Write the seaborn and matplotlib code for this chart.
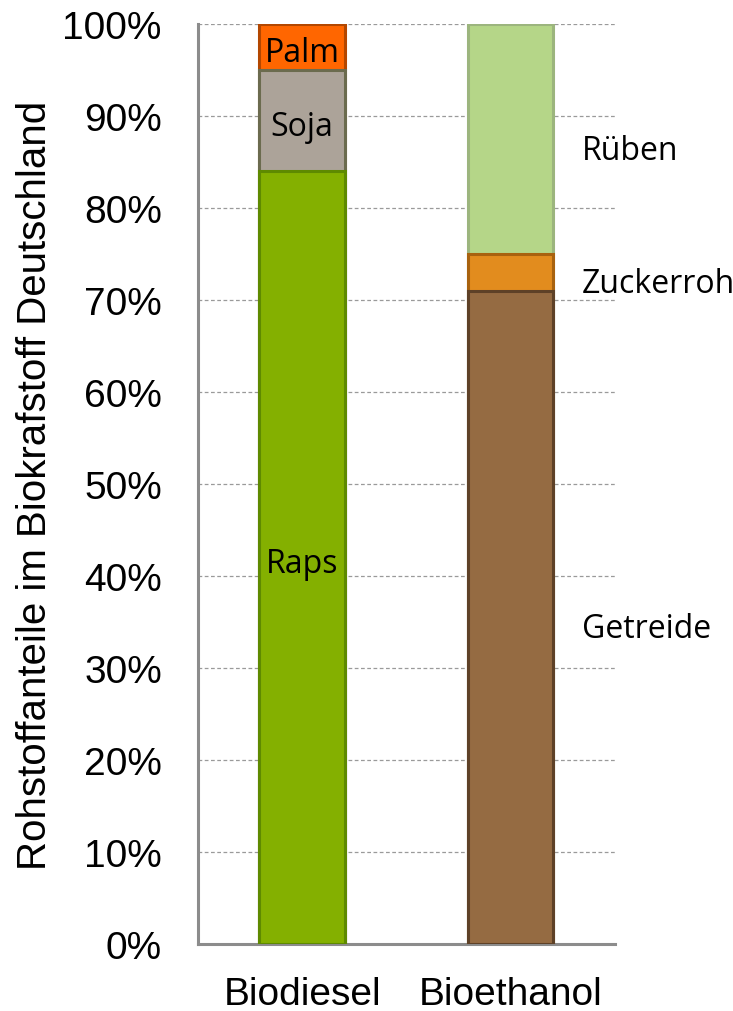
import pandas as pd
import matplotlib.pyplot as plt
import seaborn as sns

# Rohstoffanteile (%) je Kraftstoff
products = ['Biodiesel', 'Bioethanol']
biodiesel_parts = ['Raps', 'Soja', 'Palm']
biodiesel_vals = [84, 11, 5]
bioethanol_parts = ['Getreide', 'Zuckerrohr', 'Rüben']
bioethanol_vals = [71, 4, 25]
y_ticks = list(range(0, 101, 10))

fill = {'Raps': '#84B000', 'Soja': '#ACA399', 'Palm': '#FF6600',
        'Getreide': '#956B42', 'Zuckerrohr': '#E28C1E', 'Rüben': '#B5D688'}
edge = {'Raps': '#5E8A00', 'Soja': '#6B6B4E', 'Palm': '#B34700',
        'Getreide': '#5E4127', 'Zuckerrohr': '#A8620F', 'Rüben': '#9CB57E'}

rows = []
for prod, parts, vals in [(products[0], biodiesel_parts, biodiesel_vals),
                          (products[1], bioethanol_parts, bioethanol_vals)]:
    bottom = 0
    for level, (p, v) in enumerate(zip(parts, vals)):
        rows.append(dict(product=prod, part=p, level=level, value=v,
                         bottom=bottom, top=bottom + v))
        bottom += v
df = pd.DataFrame(rows)

sns.set_style('white')
plt.rcParams['font.family'] = ['Liberation Sans', 'DejaVu Sans']
plt.rcParams['text.color'] = 'black'
plt.rcParams['axes.labelcolor'] = 'black'
plt.rcParams['xtick.labelcolor'] = 'black'
plt.rcParams['ytick.labelcolor'] = 'black'

fig = plt.figure(figsize=(7.33, 10.12), dpi=100)
ax = fig.add_axes([0.270, 0.0662, 0.569, 0.9091])

# grid first, behind bars
for t in y_ticks[1:]:
    ax.axhline(t, color='#9A9A9A', lw=0.9, ls=(0, (3, 2)), zorder=0)

# stacked bars: draw cumulative tops from highest level down
for level in sorted(df['level'].unique(), reverse=True):
    sub = df[df['level'] == level]
    sns.barplot(data=sub, x='product', y='top', hue='part', order=products,
                palette={p: fill[p] for p in sub['part']}, dodge=False,
                saturation=1, width=0.41, legend=False, ax=ax,
                zorder=2 + (3 - level))
    for bar, p in zip(ax.patches[-len(sub):], sub['part']):
        bar.set_edgecolor(edge[p])
        bar.set_linewidth(2.2)

# segment labels: inside for Biodiesel, to the right for Bioethanol
lab_font = ['Open Sans', 'DejaVu Sans']
for _, r in df.iterrows():
    mid = r['bottom'] + r['value'] / 2
    if r['product'] == 'Biodiesel':
        ax.text(0, mid - 0.2, r['part'], ha='center', va='center_baseline',
                fontsize=23, family=lab_font, zorder=10)
    else:
        ax.text(1.34, mid - 0.8, r['part'], ha='left', va='center_baseline',
                fontsize=23, family=lab_font, clip_on=False, zorder=10)

ax.set_xlim(-0.5, 1.5)
ax.set_ylim(0, 100)
ax.set_yticks(y_ticks)
ax.set_yticklabels([f'{t}%' for t in y_ticks], fontsize=28)
ax.set_xticks([0, 1])
ax.set_xticklabels(products, fontsize=28)
ax.set_xticks([-0.5, 0.5, 1.5], minor=True)
ax.tick_params(axis='x', which='major', length=0, pad=23)
ax.tick_params(axis='x', which='minor', length=9, width=2.2, color='#8C8C8C')
ax.tick_params(axis='y', length=8, width=2.2, color='#8C8C8C', pad=18)
ax.set_xlabel('')
ax.set_ylabel('Rohstoffanteile im Biokrafstoff Deutschland', fontsize=29, labelpad=6)

for s in ['top', 'right']:
    ax.spines[s].set_visible(False)
for s in ['left', 'bottom']:
    ax.spines[s].set_color('#8C8C8C')
    ax.spines[s].set_linewidth(2.2)

fig.savefig('out.png', dpi=100)
